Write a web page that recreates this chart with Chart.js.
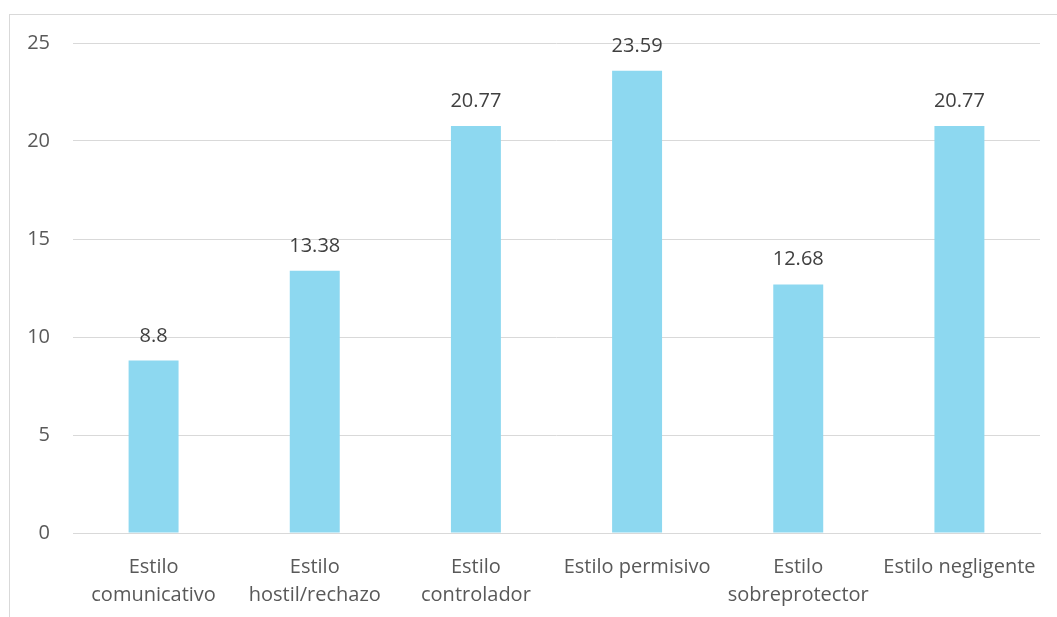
<!DOCTYPE html>
<html>
<head>
<meta charset="utf-8">
<script src="https://cdn.jsdelivr.net/npm/chart.js@4/dist/chart.umd.min.js"></script>
<style>
  html, body { margin: 0; padding: 0; background: #fff; overflow: hidden; }
  #frame { position: absolute; left: 9px; top: 14px; width: 1100px; height: 700px; border: 1px solid #D9D9D9; box-sizing: border-box; }
  #wrap { position: absolute; left: 0; top: 0; width: 1057px; height: 617px; }
</style>
</head>
<body>
<div id="frame"></div>
<div id="wrap"><canvas id="c" width="1057" height="617"></canvas></div>
<script>
const categories = [["Estilo", "comunicativo"], ["Estilo", "hostil/rechazo"], ["Estilo", "controlador"], "Estilo permisivo", ["Estilo", "sobreprotector"], "Estilo negligente"];
const values = [8.8, 13.38, 20.77, 23.59, 12.68, 20.77];
const yTicks = [0, 5, 10, 15, 20, 25];

const FONT = "'Open Sans', Lato, sans-serif";

const valueLabels = {
  id: 'valueLabels',
  afterDatasetsDraw(chart) {
    const ctx = chart.ctx;
    const meta = chart.getDatasetMeta(0);
    ctx.save();
    ctx.font = "20px " + FONT;
    ctx.fillStyle = "#404040";
    ctx.textAlign = "center";
    ctx.textBaseline = "alphabetic";
    meta.data.forEach((bar, i) => {
      ctx.fillText(String(values[i]), bar.x, bar.y - 19);
    });
    ctx.restore();
  }
};

new Chart(document.getElementById('c'), {
  type: 'bar',
  data: {
    labels: categories,
    datasets: [{
      data: values,
      backgroundColor: '#8DD8F0',
      borderWidth: 0,
      barPercentage: 0.62,
      categoryPercentage: 0.5
    }]
  },
  options: {
    responsive: false,
    animation: false,
    layout: { padding: { left: 0, top: 43, right: 17, bottom: 0 } },
    plugins: { legend: { display: false }, tooltip: { enabled: false } },
    scales: {
      x: {
        grid: { display: false, drawTicks: false },
        border: { display: true, color: '#D9D9D9', width: 1 },
        ticks: { color: '#595959', font: { family: FONT, size: 20, lineHeight: 1.4 }, padding: 20, maxRotation: 0, autoSkip: false },
        afterFit(scale) { scale.height = 84; }
      },
      y: {
        min: 0, max: 25,
        afterBuildTicks(scale) { scale.ticks = yTicks.map(v => ({ value: v })); },
        grid: { color: '#D9D9D9', lineWidth: 1, drawTicks: false },
        border: { display: false },
        ticks: { color: '#595959', font: { family: FONT, size: 20 }, padding: 23 },
        afterFit(scale) { scale.width = 73; }
      }
    }
  },
  plugins: [valueLabels]
});
</script>
</body>
</html>
